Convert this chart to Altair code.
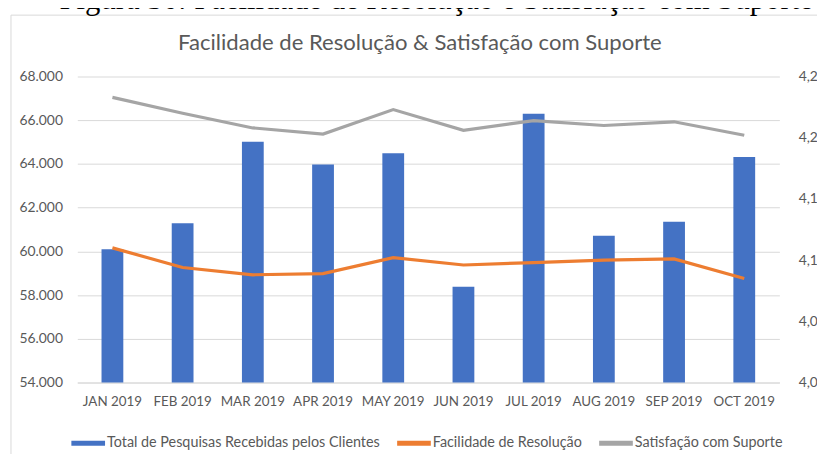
import altair as alt
import pandas as pd

meses = ["JAN 2019", "FEB 2019", "MAR 2019", "APR 2019", "MAY 2019",
         "JUN 2019", "JUL 2019", "AUG 2019", "SEP 2019", "OCT 2019"]
total_pesquisas = [60100, 61290, 65010, 63970, 64490, 58380, 66300, 60710, 61350, 64320]
facilidade = [4.110, 4.094, 4.088, 4.089, 4.102, 4.096, 4.098, 4.100, 4.101, 4.085]
satisfacao = [4.233, 4.220, 4.208, 4.203, 4.223, 4.206, 4.214, 4.210, 4.213, 4.202]

s_total = "Total de Pesquisas Recebidas pelos Clientes"
s_fac = "Facilidade de Resolução"
s_sat = "Satisfação com Suporte"
series = [s_total, s_fac, s_sat]
cores = ["#4472C4", "#ED7D31", "#A5A5A5"]

titulo = "Facilidade de Resolução & Satisfação com Suporte"
legenda_figura = "Figura 30: Facilidade de Resolução e Satisfação com Suporte"

FONT = "Lato"
GRAY_TXT = "#595959"

bars_df = pd.DataFrame({"mes": meses, "valor": total_pesquisas, "serie": s_total})
lines_df = pd.concat([
    pd.DataFrame({"mes": meses, "valor": facilidade, "serie": s_fac}),
    pd.DataFrame({"mes": meses, "valor": satisfacao, "serie": s_sat}),
])

color_scale = alt.Scale(domain=series, range=cores)
x_enc = alt.X("mes:N", sort=meses,
              scale=alt.Scale(paddingInner=0, paddingOuter=0),
              axis=alt.Axis(title=None, labelAngle=0, ticks=False, domainColor="#D9D9D9",
                            labelPadding=12, labelFontSize=13.5, labelColor=GRAY_TXT, labelFont=FONT))

bars = alt.Chart(bars_df).mark_bar(size=22).encode(
    x=x_enc,
    y=alt.Y("valor:Q", scale=alt.Scale(domain=[54000, 68000], zero=False, nice=False),
            axis=alt.Axis(title=None, values=list(range(54000, 68001, 2000)),
                          labelExpr="replace(format(datum.value, ',.0f'), ',', '.')",
                          grid=True, gridColor="#D9D9D9", domain=False, ticks=False,
                          labelPadding=15, labelFontSize=14, labelColor=GRAY_TXT, labelFont=FONT)),
    y2=alt.datum(54000),
    color=alt.Color("serie:N", scale=color_scale,
                    legend=alt.Legend(title=None, orient="none", direction="horizontal",
                                      legendX=-6, legendY=353, labelLimit=0,
                                      symbolType="M-1,-0.15H1V0.15H-1Z", symbolSize=1156,
                                      labelFontSize=14.5, labelColor=GRAY_TXT, labelFont=FONT,
                                      labelOffset=2, columnPadding=17, symbolStrokeWidth=0)),
)

lines = alt.Chart(lines_df).mark_line(strokeWidth=3.2).encode(
    x=x_enc,
    y=alt.Y("valor:Q", scale=alt.Scale(domain=[4.0, 4.25], zero=False, nice=False),
            axis=alt.Axis(title=None, orient="right", values=[4.0, 4.05, 4.10, 4.15, 4.20, 4.25],
                          labelExpr="replace(format(datum.value, '.2f'), '.', ',')",
                          grid=False, domain=False, ticks=False,
                          labelPadding=19, labelFontSize=14, labelColor=GRAY_TXT, labelFont=FONT)),
    color=alt.Color("serie:N", scale=color_scale),
)

one = alt.Data(values=[{}])

frame = alt.Chart(one).mark_rect(fillOpacity=0, stroke="#D9D9D9", strokeWidth=1).encode(
    x=alt.value(-67), x2=alt.value(770), y=alt.value(-62), y2=alt.value(400)
)

title_txt = alt.Chart(one).mark_text(text=titulo, font=FONT, fontSize=22.3, color=GRAY_TXT,
                                     align="center", baseline="alphabetic").encode(
    x=alt.value(346), y=alt.value(-27)
)

caption_txt = alt.Chart(one).mark_text(text=legenda_figura, font="Liberation Serif", fontSize=31,
                                       color="#000000", align="left", baseline="alphabetic").encode(
    x=alt.value(-18), y=alt.value(-68)
)

chart = alt.layer(frame, caption_txt, title_txt, bars, lines).resolve_scale(
    y="independent"
).properties(
    width=709, height=309,
    autosize=alt.AutoSizeParams(type="none"),
    padding={"left": 70, "top": 67, "right": 38, "bottom": 70},
).configure_view(stroke=None)

chart.save("out.html", embed_options={"renderer": "svg", "actions": False})
